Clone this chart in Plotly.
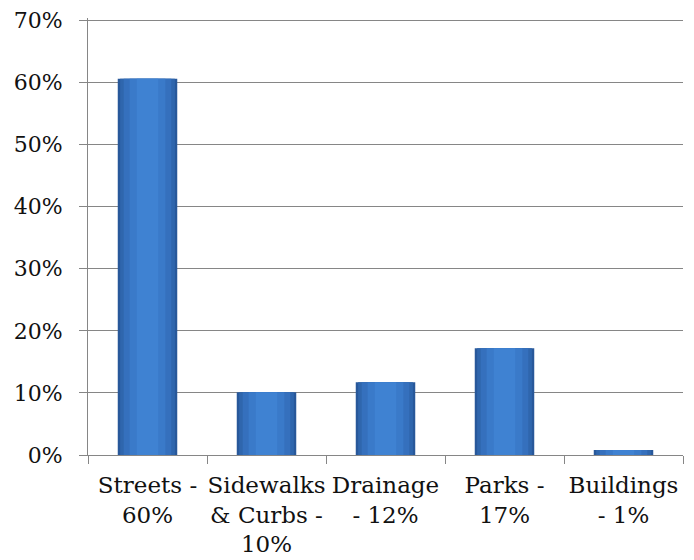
import plotly.graph_objects as go

categories = ["Streets -<br>60%", "Sidewalks<br>& Curbs -<br>10%", "Drainage<br>- 12%",
              "Parks -<br>17%", "Buildings<br>- 1%"]
values = [0.606, 0.101, 0.117, 0.172, 0.008]
y_ticks = [0, 0.1, 0.2, 0.3, 0.4, 0.5, 0.6, 0.7]
y_tick_labels = ["0%", "10%", "20%", "30%", "40%", "50%", "60%", "70%"]

FONT = "DejaVu Serif"

# layered bars to imitate the cylinder-like shading
layers = [
    (0.50, "#28589a"),
    (0.46, "#2f66ad"),
    (0.40, "#3570bd"),
    (0.30, "#3a7ac9"),
    (0.18, "#3f82d2"),
]

fig = go.Figure()
for w, c in layers:
    fig.add_trace(go.Bar(
        x=categories, y=values, width=w,
        marker=dict(color=c, line=dict(width=0)),
        hoverinfo="skip", showlegend=False,
    ))

fig.update_layout(
    width=694, height=560,
    margin=dict(l=80, r=19, t=10, b=113),
    paper_bgcolor="white", plot_bgcolor="white",
    barmode="overlay",
    font=dict(family=FONT, size=22, color="#111111"),
    showlegend=False,
)
fig.update_xaxes(
    showline=True, linecolor="#868686", linewidth=1,
    ticks="outside", ticklen=8, tickcolor="#868686", tickson="boundaries",
    showgrid=False, tickangle=0, automargin=False, ticklabelstandoff=9,
    ticklabeloverflow="allow",
    tickfont=dict(family=FONT, size=23, color="#111111"),
)
fig.update_yaxes(
    range=[0, 0.704], tickvals=y_ticks, ticktext=y_tick_labels,
    showline=True, linecolor="#868686", linewidth=1,
    ticks="outside", ticklen=8, tickcolor="#868686",
    showgrid=True, gridcolor="#868686", gridwidth=1,
    zeroline=False, ticklabelstandoff=12, automargin=False,
    ticklabeloverflow="allow",
    tickfont=dict(family=FONT, size=22, color="#111111"),
)

fig.write_html("out.html")
